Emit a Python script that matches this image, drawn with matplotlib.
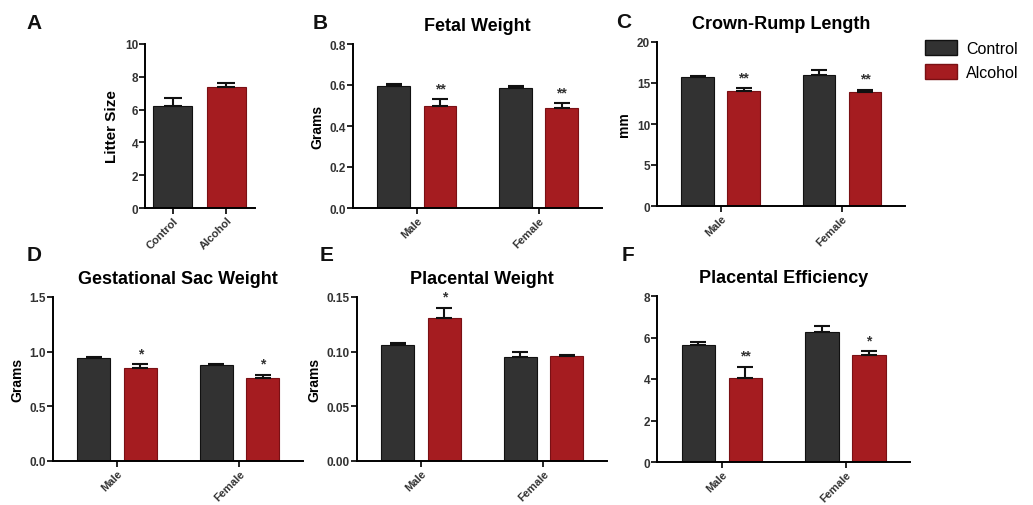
import matplotlib
matplotlib.use("Agg")
import matplotlib.pyplot as plt
import numpy as np
from matplotlib.patches import Patch

plt.rcParams['font.family'] = ['Liberation Sans', 'DejaVu Sans']
plt.rcParams['font.weight'] = 'bold'

CTRL = '#323232'
ALC = '#a51c20'

# Panel A
litter_groups = ['Control', 'Alcohol']
litter_mean = [6.2, 7.35]
litter_sem = [0.5, 0.3]

sexes = ['Male', 'Female']
# Panel B
fetal_ctrl = [0.595, 0.583]
fetal_ctrl_sem = [0.008, 0.013]
fetal_alc = [0.50, 0.49]
fetal_alc_sem = [0.03, 0.02]
fetal_stars = ['**', '**']
# Panel C
crl_ctrl = [15.7, 16.0]
crl_ctrl_sem = [0.2, 0.55]
crl_alc = [14.0, 13.9]
crl_alc_sem = [0.35, 0.3]
crl_stars = ['**', '**']
# Panel D
sac_ctrl = [0.945, 0.88]
sac_ctrl_sem = [0.01, 0.005]
sac_alc = [0.855, 0.76]
sac_alc_sem = [0.03, 0.03]
sac_stars = ['*', '*']
# Panel E
plac_ctrl = [0.106, 0.095]
plac_ctrl_sem = [0.002, 0.005]
plac_alc = [0.131, 0.096]
plac_alc_sem = [0.009, 0.001]
plac_stars = ['*', '']
# Panel F
eff_ctrl = [5.65, 6.25]
eff_ctrl_sem = [0.15, 0.3]
eff_alc = [4.05, 5.15]
eff_alc_sem = [0.55, 0.18]
eff_stars = ['**', '*']

W, H = 1033, 506
fig = plt.figure(figsize=(W / 100, H / 100), dpi=100)


def add_ax(l, r, t, b):
    return fig.add_axes([l / W, 1 - b / H, (r - l) / W, (b - t) / H])


def style(ax, ylim, yticks, fmt):
    ax.spines['top'].set_visible(False)
    ax.spines['right'].set_visible(False)
    ax.spines['left'].set_linewidth(1.4)
    ax.spines['bottom'].set_linewidth(1.4)
    ax.set_ylim(*ylim)
    ax.set_yticks(yticks)
    ax.set_yticklabels([fmt.format(v) for v in yticks], fontsize=8.5, fontweight='bold', color='#333333')
    ax.tick_params(axis='y', length=4, width=1.2, pad=1)
    ax.tick_params(axis='x', length=4, width=1.2, pad=1)


def err(ax, x, m, s, capsize):
    ax.errorbar([x], [m], yerr=[[0], [s]], fmt='none', ecolor='#111111',
                elinewidth=1.5, capsize=capsize, capthick=1.5)


def grouped(ax, ctrl, csem, alc, asem, stars, ylim, yticks, fmt, ylabel, title):
    x = np.arange(len(sexes))
    off, w = 0.19, 0.27
    for i in x:
        ax.bar(i - off, ctrl[i], w, color=CTRL, edgecolor='#111111', linewidth=0.8, zorder=2)
        ax.bar(i + off, alc[i], w, color=ALC, edgecolor='#7a1014', linewidth=0.8, zorder=2)
        err(ax, i - off, ctrl[i], csem[i], 5.5)
        err(ax, i + off, alc[i], asem[i], 5.5)
        if stars[i]:
            ax.annotate(stars[i], (i + off, alc[i] + asem[i]), xytext=(0, 3),
                        textcoords='offset points', ha='center', va='bottom',
                        fontsize=10, fontweight='bold', color='#333333')
    ax.set_xlim(-0.525, 1.52)
    ax.set_xticks(x)
    ax.set_xticklabels(sexes, rotation=45, ha='right', rotation_mode='anchor',
                       fontsize=8, fontweight='bold', color='#333333')
    style(ax, ylim, yticks, fmt)
    if ylabel:
        ax.set_ylabel(ylabel, fontsize=10, fontweight='bold', labelpad=4)
    ax.set_title(title, fontsize=13, fontweight='bold', pad=10)


# A
axA = add_ax(145, 255, 45, 209)
xa = np.arange(len(litter_groups))
axA.bar(xa[0], litter_mean[0], 0.72, color=CTRL, edgecolor='#111111', linewidth=0.8, zorder=2)
axA.bar(xa[1], litter_mean[1], 0.72, color=ALC, edgecolor='#7a1014', linewidth=0.8, zorder=2)
for i in xa:
    err(axA, i, litter_mean[i], litter_sem[i], 6.5)
axA.set_xlim(-0.51, 1.53)
axA.set_xticks(xa)
axA.set_xticklabels(litter_groups, rotation=45, ha='right', rotation_mode='anchor',
                    fontsize=8, fontweight='bold', color='#333333')
style(axA, (0, 10), [0, 2, 4, 6, 8, 10], '{:g}')
axA.set_ylabel('Litter Size', fontsize=11, fontweight='bold', labelpad=4)

axB = add_ax(353, 602, 45, 209)
grouped(axB, fetal_ctrl, fetal_ctrl_sem, fetal_alc, fetal_alc_sem, fetal_stars,
        (0, 0.8), [0, 0.2, 0.4, 0.6, 0.8], '{:.1f}', 'Grams', 'Fetal Weight')

axC = add_ax(657, 905, 43, 207)
grouped(axC, crl_ctrl, crl_ctrl_sem, crl_alc, crl_alc_sem, crl_stars,
        (0, 20), [0, 5, 10, 15, 20], '{:g}', 'mm', 'Crown-Rump Length')

axD = add_ax(53, 303, 298, 462)
grouped(axD, sac_ctrl, sac_ctrl_sem, sac_alc, sac_alc_sem, sac_stars,
        (0, 1.5), [0, 0.5, 1.0, 1.5], '{:.1f}', 'Grams', 'Gestational Sac Weight')

axE = add_ax(357, 607, 298, 462)
grouped(axE, plac_ctrl, plac_ctrl_sem, plac_alc, plac_alc_sem, plac_stars,
        (0, 0.15), [0, 0.05, 0.10, 0.15], '{:.2f}', 'Grams', 'Placental Weight')

axF = add_ax(657, 910, 297, 463)
grouped(axF, eff_ctrl, eff_ctrl_sem, eff_alc, eff_alc_sem, eff_stars,
        (0, 8), [0, 2, 4, 6, 8], '{:g}', None, 'Placental Efficiency')

# Panel letters
for letter, (px, py) in zip('ABCDEF', [(34, 24), (320, 24), (624, 22), (34, 256), (327, 256), (628, 256)]):
    fig.text(px / W, 1 - py / H, letter, fontsize=15, fontweight='bold',
             ha='center', va='center', color='#111111')

handles = [Patch(facecolor=CTRL, edgecolor='#111111', label='Control'),
           Patch(facecolor=ALC, edgecolor='#7a1014', label='Alcohol')]
fig.legend(handles=handles, loc='upper left', bbox_to_anchor=(920 / W, 1 - 36 / H),
           frameon=False, prop={'size': 11.5, 'weight': 'normal'},
           handlelength=2.0, handleheight=1.1, handletextpad=0.6, labelspacing=0.5,
           borderaxespad=0.0, borderpad=0.3)

fig.savefig('out.png', dpi=100)
